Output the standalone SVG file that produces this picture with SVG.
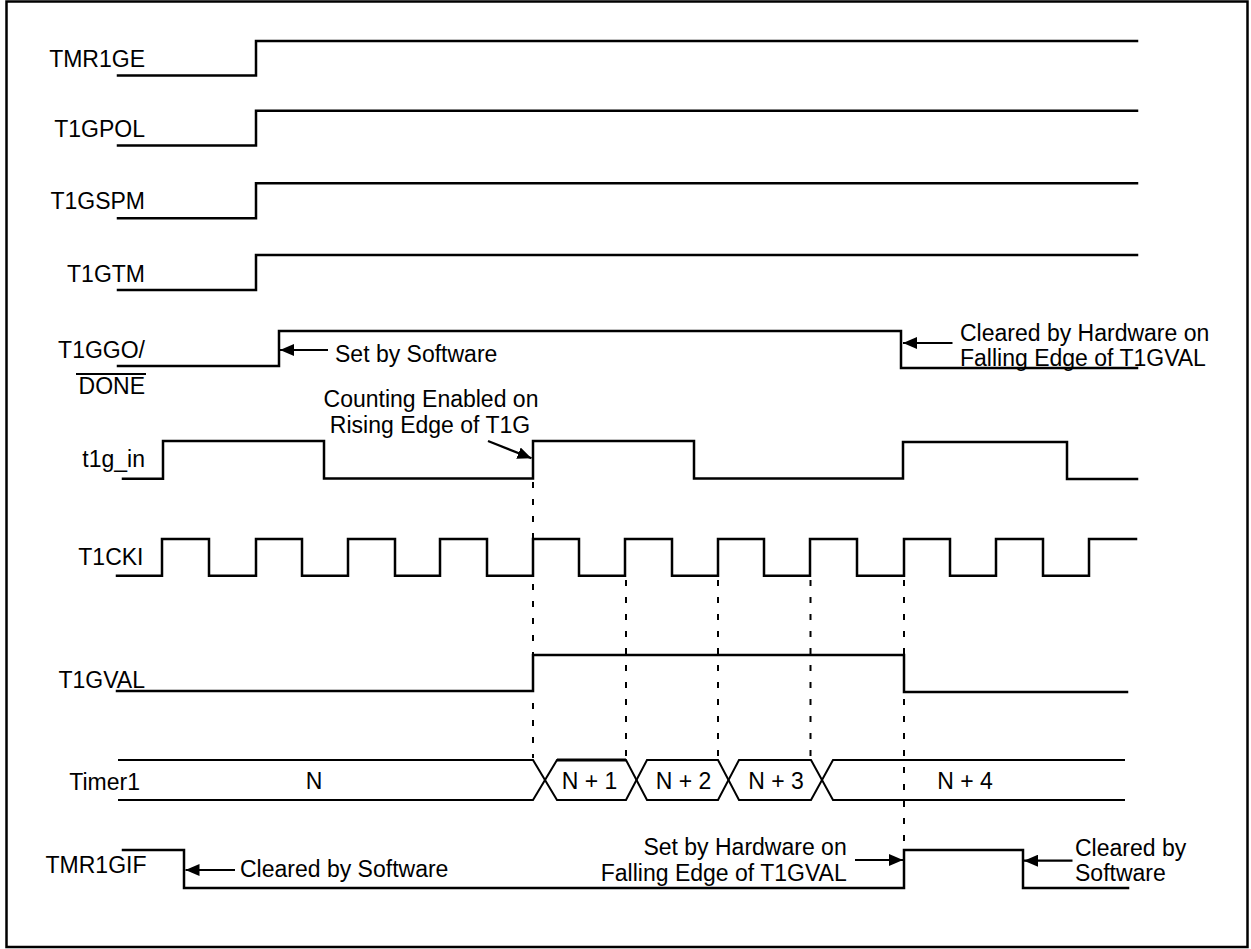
<svg xmlns="http://www.w3.org/2000/svg" width="1251" height="949" viewBox="0 0 1251 949">
<style>
.sig{fill:none;stroke:#000;stroke-width:2.5;stroke-linecap:square}
.bus{fill:none;stroke:#000;stroke-width:2}
.dash{fill:none;stroke:#000;stroke-width:2;stroke-dasharray:6 11}
.arr{fill:none;stroke:#000;stroke-width:2.2}
text{font-family:"Liberation Sans",Arial,sans-serif;font-size:23px;fill:#000}
.lbl{text-anchor:end}
.mid{text-anchor:middle}
</style>
<defs>
<marker id="ah" viewBox="0 0 14 12" refX="14" refY="6" markerWidth="14" markerHeight="12" markerUnits="userSpaceOnUse" orient="auto">
<path d="M0,0 L14,6 L0,12 z" fill="#000"/>
</marker>
</defs>
<rect x="6.5" y="1.5" width="1241" height="945.5" fill="#fff" stroke="#000" stroke-width="2.5"/>

<g id="TMR1GE">
<text class="lbl" x="145" y="66.7">TMR1GE</text>
<path class="sig" d="M118,75.5 H256 V41 H1137"/>
</g>
<g id="T1GPOL">
<text class="lbl" x="145" y="136.7">T1GPOL</text>
<path class="sig" d="M118,145.5 H256 V110.7 H1137"/>
</g>
<g id="T1GSPM">
<text class="lbl" x="145" y="209">T1GSPM</text>
<path class="sig" d="M118,218.3 H256 V183.3 H1137"/>
</g>
<g id="T1GTM">
<text class="lbl" x="145" y="281.7">T1GTM</text>
<path class="sig" d="M118,290 H256 V255 H1137"/>
</g>
<g id="T1GGO_DONE">
<text class="lbl" x="145" y="358">T1GGO/</text>
<text class="lbl" x="145" y="394">DONE</text>
<line x1="76" y1="374" x2="146" y2="374" stroke="#000" stroke-width="2"/>
<path class="sig" d="M118,366 H279 V331 H901 V368 H1137"/>
</g>
<g id="t1g_in">
<text class="lbl" x="145" y="466.7">t1g_in</text>
<path class="sig" d="M123,478.7 H163 V441 H324 V478.5 H533 V441 H694 V478.5 H903 V442 H1067 V479 H1137"/>
</g>
<g id="T1CKI">
<text class="lbl" x="143.5" y="565">T1CKI</text>
<path class="sig" d="M117,575.7 H162 V539 H209 V575.7 H256 V539 H302 V575.7 H348 V539 H395 V575.7 H440 V539 H487 V575.7 H533 V539 H579 V575.7 H625 V539 H672 V575.7 H718 V539 H764 V575.7 H810 V539 H857 V575.7 H904 V539 H950 V575.7 H996 V539 H1043 V575.7 H1089 V539 H1136"/>
</g>
<g id="T1GVAL">
<text class="lbl" x="145" y="688.3">T1GVAL</text>
<path class="sig" d="M117,691 H533 V655 H904 V692 H1127"/>
</g>
<g id="Timer1">
<text class="lbl" x="140" y="790">Timer1</text>
<path class="bus" d="M118,760 H533 L557,800 H626 L647,760 H718 L739,800 H811 L833,760 H1125"/>
<path class="bus" d="M118,800 H533 L557,760 H626 L647,800 H718 L739,760 H811 L833,800 H1125"/>
<line x1="557" y1="760" x2="626" y2="760" stroke="#000" stroke-width="3"/>
<text class="mid" x="314" y="789">N</text>
<text class="mid" x="589.5" y="789">N + 1</text>
<text class="mid" x="683.5" y="789">N + 2</text>
<text class="mid" x="776" y="789">N + 3</text>
<text class="mid" x="965" y="789">N + 4</text>
</g>
<g id="TMR1GIF">
<text class="lbl" x="146.5" y="873.3">TMR1GIF</text>
<path class="sig" d="M123,850 H184 V888 H904 V850 H1023 V888 H1128"/>
</g>

<g id="annotations">
<text x="335" y="361.7">Set by Software</text>
<text x="960" y="341">Cleared by Hardware on</text>
<text x="960" y="366">Falling Edge of T1GVAL</text>
<text class="mid" x="431" y="406.7">Counting Enabled on</text>
<text class="mid" x="430" y="433">Rising Edge of T1G</text>
<text x="240" y="876.7">Cleared by Software</text>
<text class="lbl" x="846.7" y="855">Set by Hardware on</text>
<text class="lbl" x="846.7" y="881">Falling Edge of T1GVAL</text>
<text x="1075" y="856">Cleared by</text>
<text x="1075" y="881">Software</text>
</g>

<g id="connectors">
<line class="dash" x1="533" y1="482" x2="533" y2="758"/>
<line class="dash" x1="626" y1="580" x2="626" y2="758"/>
<line class="dash" x1="718" y1="580" x2="718" y2="758"/>
<line class="dash" x1="810.5" y1="580" x2="810.5" y2="758"/>
<line class="dash" x1="904" y1="580" x2="904" y2="848"/>
<line class="arr" x1="328" y1="350" x2="280" y2="350" marker-end="url(#ah)"/>
<line class="arr" x1="952.5" y1="343" x2="903" y2="343" marker-end="url(#ah)"/>
<line class="arr" x1="488" y1="441" x2="531.5" y2="458.3" marker-end="url(#ah)"/>
<line class="arr" x1="855" y1="860" x2="903" y2="860" marker-end="url(#ah)"/>
<line class="arr" x1="1072.5" y1="860.7" x2="1024" y2="860.7" marker-end="url(#ah)"/>
<line class="arr" x1="235" y1="870" x2="185.5" y2="870" marker-end="url(#ah)"/>
</g>
</svg>
